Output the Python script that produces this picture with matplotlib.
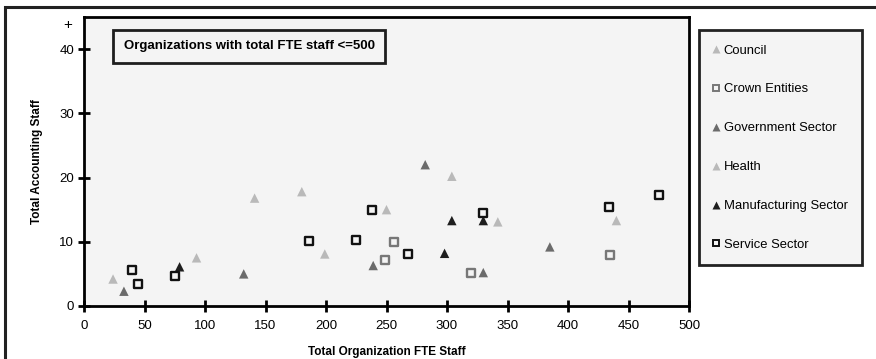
import matplotlib.pyplot as plt
from matplotlib.lines import Line2D
from matplotlib.patches import Rectangle

plt.rcParams['font.family'] = ['Liberation Sans', 'DejaVu Sans']

# data
council_x = [24, 93, 199, 250, 342]
council_y = [4.2, 7.5, 8.1, 15.0, 13.1]
health_x = [141, 180, 304, 440]
health_y = [16.8, 17.8, 20.2, 13.3]
crown_x = [249, 256, 320, 435]
crown_y = [7.2, 10.0, 5.1, 8.0]
gov_x = [33, 132, 239, 282, 330, 385]
gov_y = [2.3, 5.0, 6.3, 22.0, 5.2, 9.2]
manu_x = [79, 298, 304, 330]
manu_y = [6.1, 8.2, 13.3, 13.3]
service_x = [40, 45, 75, 186, 225, 238, 268, 330, 434, 475]
service_y = [5.6, 3.5, 4.7, 10.1, 10.2, 15.0, 8.1, 14.5, 15.4, 17.3]

x_ticks = [0, 50, 100, 150, 200, 250, 300, 350, 400, 450, 500]
y_ticks = [0, 10, 20, 30, 40]

bg = '#f4f4f4'
fig = plt.figure(figsize=(8.76, 3.59), dpi=100)
ax = fig.add_axes([84 / 876, 53 / 359, 605 / 876, 289 / 359])
ax.set_facecolor(bg)

styles = [
    ('Council', council_x, council_y, '^', '#b9b9b9', '#b9b9b9'),
    ('Crown Entities', crown_x, crown_y, 's', bg, '#777777'),
    ('Government Sector', gov_x, gov_y, '^', '#6b6b6b', '#6b6b6b'),
    ('Health', health_x, health_y, '^', '#b9b9b9', '#b9b9b9'),
    ('Manufacturing Sector', manu_x, manu_y, '^', '#1e1e1e', '#1e1e1e'),
    ('Service Sector', service_x, service_y, 's', bg, '#111111'),
]
handles = []
for name, xs, ys, m, fc, ec in styles:
    if m == '^':
        ax.scatter(xs, ys, marker='^', s=46, c=fc, edgecolors='none', zorder=3)
        handles.append(Line2D([], [], ls='none', marker='^', ms=6, mfc=fc, mec='none', label=name))
    else:
        ax.scatter(xs, ys, marker='s', s=30, c=fc, edgecolors=ec, linewidths=1.7, zorder=3)
        handles.append(Line2D([], [], ls='none', marker='s', ms=5, mfc=bg, mec=ec, mew=1.4, label=name))

ax.set_xlim(0, 500)
ax.set_ylim(0, 45)
ax.set_xticks(x_ticks)
ax.set_yticks(y_ticks)
ax.tick_params(direction='inout', length=8, width=2, labelsize=9.5, pad=3)
ax.tick_params(axis='x', pad=6)
for s in ax.spines.values():
    s.set_linewidth(2)
ax.text(-0.02, 43.8, '+', ha='right', va='center', fontsize=11, transform=ax.get_yaxis_transform())

ax.set_xlabel('Total Organization FTE Staff', fontsize=8.5, fontweight='bold', labelpad=10)
ax.set_ylabel('Total Accounting Staff', fontsize=8.5, fontweight='bold', labelpad=12)

ax.text(0.066, 0.898, 'Organizations with total FTE staff <=500', transform=ax.transAxes,
        fontsize=9.5, fontweight='bold', va='center', ha='left',
        bbox=dict(boxstyle='square,pad=0.8', fc=bg, ec='#1e1e1e', lw=2))

leg = fig.legend(handles=handles, loc='upper left', bbox_to_anchor=(699 / 876, 1 - 30 / 359),
                 fontsize=9.4, frameon=True, fancybox=False, labelspacing=2.05,
                 handletextpad=0.35, handlelength=0.45, borderpad=1.1, borderaxespad=0)
leg.get_frame().set_facecolor(bg)
leg.get_frame().set_edgecolor('#222222')
leg.get_frame().set_linewidth(2)
leg.get_frame().set_alpha(1)

# outer frame, only left and top edges inside the picture
fig.add_artist(Rectangle((5 / 876, -0.1), 1.2, 1.1 - 7 / 359, transform=fig.transFigure,
                         fill=False, ec='#222222', lw=2.2, clip_on=False))

fig.savefig('out.png', dpi=100)
